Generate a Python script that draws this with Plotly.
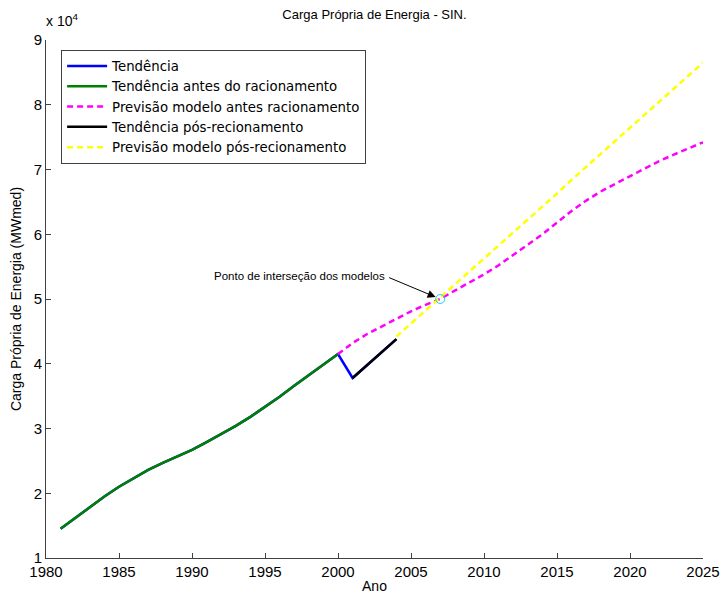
import plotly.graph_objects as go

# Trend (1981-2004)
years_trend = [1981, 1982, 1983, 1984, 1985, 1986, 1987, 1988, 1989, 1990,
               1991, 1992, 1993, 1994, 1995, 1996, 1997, 1998, 1999, 2000,
               2001, 2002, 2003, 2004]
trend = [14500, 16200, 17900, 19500, 21000, 22300, 23600, 24700, 25700, 26700,
         27900, 29100, 30400, 31800, 33300, 34900, 36600, 38200, 39900, 41500,
         37800, 39800, 41800, 43800]

years_pre = years_trend[:20]
trend_pre = trend[:20]

years_post = [2001, 2002, 2003, 2004]
trend_post = [37800, 39800, 41800, 43800]

years_fc_pre = list(range(2000, 2026))
fc_pre = [41500, 43200, 44600, 45800, 47000, 48100, 49100, 50000, 51300, 52500,
          53800, 55200, 56800, 58300, 60000, 61800, 63600, 65200, 66600, 67800,
          69000, 70200, 71300, 72300, 73300, 74200]

years_fc_post = list(range(2004, 2026))
fc_post = [44200, 46200, 48200, 50200, 52200, 54200, 56300, 58300, 60300, 62300,
           64300, 66300, 68400, 70400, 72400, 74400, 76400, 78400, 80500, 82500,
           84500, 86500]

inter_x = [2007]
inter_y = [50000]

x_ticks = [1980, 1985, 1990, 1995, 2000, 2005, 2010, 2015, 2020, 2025]
y_ticks = [10000, 20000, 30000, 40000, 50000, 60000, 70000, 80000, 90000]
y_ticklabels = ["1", "2", "3", "4", "5", "6", "7", "8", "9"]

FONT = "Liberation Sans, Arial, sans-serif"

fig = go.Figure()
fig.add_trace(go.Scatter(x=years_trend, y=trend, mode="lines", name="Tendência",
                         line=dict(color="#0000ff", width=2.5)))
fig.add_trace(go.Scatter(x=years_pre, y=trend_pre, mode="lines",
                         name="Tendência antes do racionamento",
                         line=dict(color="#008000", width=2.5)))
fig.add_trace(go.Scatter(x=years_fc_pre, y=fc_pre, mode="lines",
                         name="Previsão modelo antes racionamento",
                         line=dict(color="#ff00ff", width=2.5, dash="6px,4px")))
fig.add_trace(go.Scatter(x=years_post, y=trend_post, mode="lines",
                         name="Tendência pós-recionamento",
                         line=dict(color="#000000", width=2.5)))
fig.add_trace(go.Scatter(x=years_fc_post, y=fc_post, mode="lines",
                         name="Previsão modelo pós-recionamento",
                         line=dict(color="#ffff00", width=2.5, dash="6px,4px")))
fig.add_trace(go.Scatter(x=inter_x, y=inter_y, mode="markers", showlegend=False,
                         marker=dict(symbol="circle-open", size=9,
                                     line=dict(color="#666677", width=1))))

fig.add_annotation(x=2007, y=50000, ax=2003.4, ay=53400, axref="x", ayref="y",
                   xref="x", yref="y", text="", showarrow=True, arrowhead=2,
                   arrowsize=1.6, arrowwidth=1, arrowcolor="#000000", standoff=5)
fig.add_annotation(x=2003.35, y=53500, xref="x", yref="y",
                   text="Ponto de interseção dos modelos", showarrow=False,
                   xanchor="right", yanchor="middle",
                   font=dict(family=FONT, size=11.5, color="#000000"))
fig.add_annotation(x=0, y=1, xref="paper", yref="paper", xanchor="left",
                   yanchor="bottom", yshift=9, xshift=-2,
                   text="x 10<sup>4</sup>", showarrow=False,
                   font=dict(family=FONT, size=14, color="#000000"))

fig.update_layout(
    width=720, height=594,
    margin=dict(l=46, r=17, t=40, b=36),
    paper_bgcolor="white", plot_bgcolor="white",
    font=dict(family=FONT, size=14, color="#000000"),
    title=dict(text="Carga Própria de Energia - SIN.", x=(46 + 703) / 2 / 720,
               xanchor="center", y=1 - 14 / 594, yanchor="middle",
               font=dict(family=FONT, size=13, color="#000000")),
    legend=dict(x=0.023, y=0.981, xanchor="left", yanchor="top",
                bgcolor="white", bordercolor="#404040", borderwidth=1,
                font=dict(family="DejaVu Sans, sans-serif", size=13.3,
                          color="#000000"),
                tracegroupgap=0, itemwidth=40),
    showlegend=True,
)
fig.update_xaxes(range=[1980, 2025], tickvals=x_ticks, showgrid=False,
                 zeroline=False, showline=True, linecolor="#404040", linewidth=1,
                 ticks="inside", ticklen=5, tickcolor="#404040", automargin=False,
                 tickfont=dict(family=FONT, size=15),
                 title=dict(text="Ano", font=dict(family=FONT, size=14), standoff=2))
fig.update_yaxes(range=[10000, 90000], tickvals=y_ticks, ticktext=y_ticklabels,
                 showgrid=False, zeroline=False, showline=True, automargin=False,
                 linecolor="#404040", linewidth=1, ticks="inside", ticklen=5,
                 tickcolor="#404040", tickfont=dict(family=FONT, size=15),
                 title=dict(text="Carga Própria de Energia (MWmed)",
                            font=dict(family=FONT, size=14), standoff=8))

fig.write_html("out.html", config={"displayModeBar": False},
               post_script="document.body.style.margin='0';"
                           "document.body.style.padding='0';")
